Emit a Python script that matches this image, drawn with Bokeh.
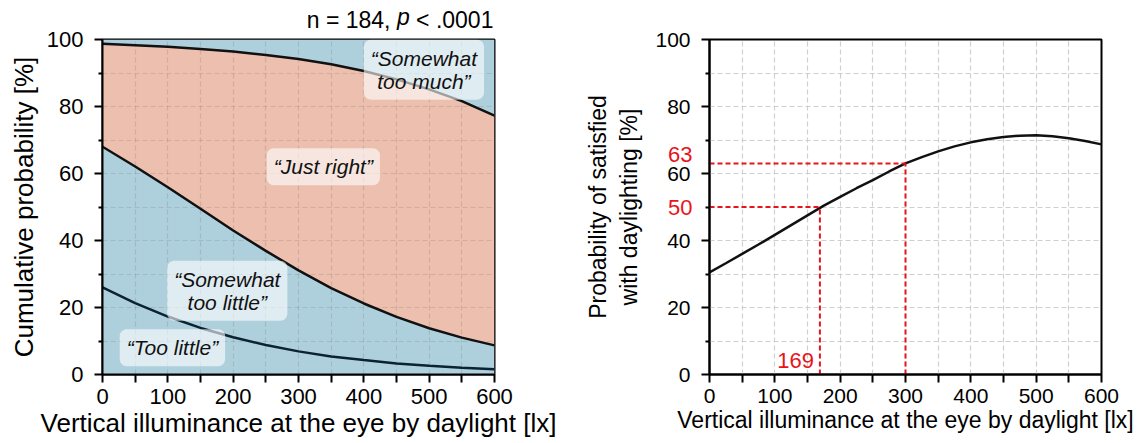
from bokeh.plotting import figure
from bokeh.layouts import row
from bokeh.models import FixedTicker, Label, LinearAxis
from bokeh.embed import file_html
from bokeh.resources import INLINE

FONT = "Liberation Sans"

# ---------------- data ----------------
illuminance = [0, 50, 100, 150, 200, 250, 300, 350, 400, 450, 500, 550, 600]
# cumulative probabilities (left panel)
cum_too_little = [26.0, 21.3, 17.3, 13.9, 11.1, 8.8, 6.9, 5.4, 4.3, 3.3, 2.6, 2.0, 1.6]
cum_somewhat_little = [68.0, 62.1, 55.9, 49.5, 43.0, 36.9, 31.1, 25.8, 21.2, 17.2, 13.8, 11.0, 8.7]
cum_just_right = [98.7, 98.3, 97.8, 97.2, 96.4, 95.4, 94.2, 92.6, 90.6, 88.1, 85.1, 81.6, 77.3]
# probability of satisfied (right panel)
illuminance_r = [0, 25, 50, 75, 100, 125, 150, 175, 200, 225, 250, 275, 300,
                 325, 350, 375, 400, 425, 450, 475, 500, 525, 550, 575, 600]
p_satisfied = [30.5, 33.2, 36.0, 38.8, 41.7, 44.6, 47.5, 50.4, 53.0, 55.6, 58.0, 60.6, 63.0,
               64.9, 66.6, 68.1, 69.3, 70.2, 70.9, 71.3, 71.4, 71.1, 70.5, 69.7, 68.7]
crit_x = [169, 300]
crit_y = [50, 63]

x_major = [0, 100, 200, 300, 400, 500, 600]
x_minor = [50, 150, 250, 350, 450, 550]
y_major = [0, 20, 40, 60, 80, 100]
y_minor = [10, 30, 50, 70, 90]

region_labels = ["\u201cSomewhat\ntoo much\u201d", "\u201cJust right\u201d",
                 "\u201cSomewhat\ntoo little\u201d", "\u201cToo little\u201d"]
region_x = [492, 338, 191, 107]
region_y = [91, 62, 25, 8]

# title "n = 184, p < .0001": pieces and their centre positions along the x scale
title_normal = ["n = 184,", "< .0001"]
title_normal_at = [376.7, 539.2]
title_italic = ["p"]
title_italic_at = [460.4]

XMAX, YMAX = 600, 100
BLUE = "#aed0dc"
SALMON = "#ecbfae"
RED = "#e8141c"

# layout geometry (pixels)
H = 440
TOP = 37
FRAME_W = 392
L1, R1 = 102, 75
W1 = L1 + FRAME_W + R1
L2, R2 = 140, 46
W2 = L2 + FRAME_W + R2


def style_axes(p, tick_size, label_size, xlab, ylab, ylab_standoff):
    p.xaxis.ticker = FixedTicker(ticks=x_major, minor_ticks=x_minor)
    p.yaxis.ticker = FixedTicker(ticks=y_major, minor_ticks=y_minor)
    p.xgrid.ticker = FixedTicker(ticks=sorted(x_major + x_minor))
    p.ygrid.ticker = FixedTicker(ticks=sorted(y_major + y_minor))
    for ax in (p.xaxis, p.yaxis):
        ax.axis_line_width = 2
        ax.axis_line_color = "black"
        ax.major_tick_line_width = 2
        ax.minor_tick_line_width = 2
        ax.major_tick_out = 8
        ax.major_tick_in = 0
        ax.minor_tick_in = 0
        ax.major_label_text_font = FONT
        ax.major_label_text_font_size = f"{tick_size}px"
        ax.major_label_text_color = "black"
        ax.axis_label_text_font = FONT
        ax.axis_label_text_font_size = f"{label_size}px"
        ax.axis_label_text_font_style = "normal"
        ax.axis_label_text_color = "black"
    p.xaxis.minor_tick_out = 8
    p.yaxis.minor_tick_out = 4
    p.xaxis.major_label_standoff = 6
    p.yaxis.major_label_standoff = 11
    p.xaxis.axis_label_standoff = 1
    p.yaxis.axis_label_standoff = ylab_standoff
    p.xaxis.axis_label = xlab
    p.yaxis.axis_label = ylab
    p.outline_line_color = "black"
    p.outline_line_width = 2
    p.outline_line_alpha = 1


def label_axis(ticks, texts, standoff, color="black", size="22px", style="normal"):
    return LinearAxis(ticker=FixedTicker(ticks=ticks, minor_ticks=[]),
                      major_label_overrides={t: s for t, s in zip(ticks, texts)},
                      axis_line_color=None, major_tick_line_color=None, minor_tick_line_color=None,
                      major_tick_out=0, major_tick_in=0, minor_tick_out=0, minor_tick_in=0,
                      major_label_standoff=standoff, major_label_text_color=color,
                      major_label_text_font=FONT, major_label_text_font_size=size,
                      major_label_text_font_style=style)


# ---------------- left panel ----------------
p1 = figure(width=W1, height=H, x_range=(0, XMAX), y_range=(0, YMAX),
            output_backend="svg", toolbar_location=None,
            min_border_left=L1, min_border_right=R1, min_border_top=TOP, min_border_bottom=60)
style_axes(p1, 22, 26, "Vertical illuminance at the eye by daylight [lx]",
           "Cumulative probability [%]", 5)

r1 = p1.varea(x=illuminance, y1=[0] * len(illuminance), y2=cum_somewhat_little, fill_color=BLUE)
r2 = p1.varea(x=illuminance, y1=cum_somewhat_little, y2=cum_just_right, fill_color=SALMON)
r3 = p1.varea(x=illuminance, y1=cum_just_right, y2=[YMAX] * len(illuminance), fill_color=BLUE)
for r in (r1, r2, r3):
    r.level = "image"
for g in (p1.xgrid, p1.ygrid):
    g.grid_line_color = "#6f6f6f"
    g.grid_line_alpha = 0.22
    g.grid_line_dash = "5 3"
    g.grid_line_width = 1.2

p1.line(illuminance, cum_just_right, line_color="#111111", line_width=2.5)
p1.line(illuminance, cum_somewhat_little, line_color="#111111", line_width=2.5)
p1.line(illuminance, cum_too_little, line_color="#0b2233", line_width=2.5)

for txt, xx, yy in zip(region_labels, region_x, region_y):
    p1.add_layout(Label(x=xx, y=yy, text=txt, text_align="center", text_baseline="middle",
                        text_font=FONT, text_font_size="21px", text_font_style="italic",
                        text_color="#111111", text_line_height=1.0,
                        background_fill_color="white", background_fill_alpha=0.6,
                        border_radius=7, padding=7))

# title above the left panel (normal pieces nearest the frame, italic "p" pulled into the same line)
p1.add_layout(label_axis(title_normal_at, title_normal, 7, size="23px"), "above")
p1.add_layout(label_axis(title_italic_at, title_italic, -26, size="23px", style="italic"), "above")

# ---------------- right panel ----------------
p2 = figure(width=W2, height=H, x_range=(0, XMAX), y_range=(0, YMAX),
            output_backend="svg", toolbar_location=None,
            min_border_left=L2, min_border_right=R2, min_border_top=TOP, min_border_bottom=60)
style_axes(p2, 21, 23, "Vertical illuminance at the eye by daylight [lx]",
           "Probability of satisfied\nwith daylighting [%]", 10)
for g in (p2.xgrid, p2.ygrid):
    g.grid_line_color = "#cfcfcf"
    g.grid_line_alpha = 1
    g.grid_line_dash = "5 3"
    g.grid_line_width = 1.2

p2.line(illuminance_r, p_satisfied, line_color="#111111", line_width=2.5)
zeros = [0] * len(crit_x)
p2.segment(x0=zeros, y0=crit_y, x1=crit_x, y1=crit_y, line_color=RED, line_width=2, line_dash="5 3")
p2.segment(x0=crit_x, y0=zeros, x1=crit_x, y1=crit_y, line_color=RED, line_width=2, line_dash="5 3")

# red threshold values shown beside the y tick labels (second, label-only axis)
red_pos = [crit_y[0], crit_y[1] + 2.7]
p2.add_layout(label_axis(red_pos, [str(v) for v in crit_y], -110, color=RED), "left")

p2.add_layout(Label(x=crit_x[0], y=4.2, x_offset=-6, text=str(crit_x[0]),
                    text_align="right", text_baseline="middle",
                    text_font=FONT, text_font_size="22px", text_color=RED))

layout = row(p1, p2)
open("out.html", "w").write(file_html(layout, INLINE))
